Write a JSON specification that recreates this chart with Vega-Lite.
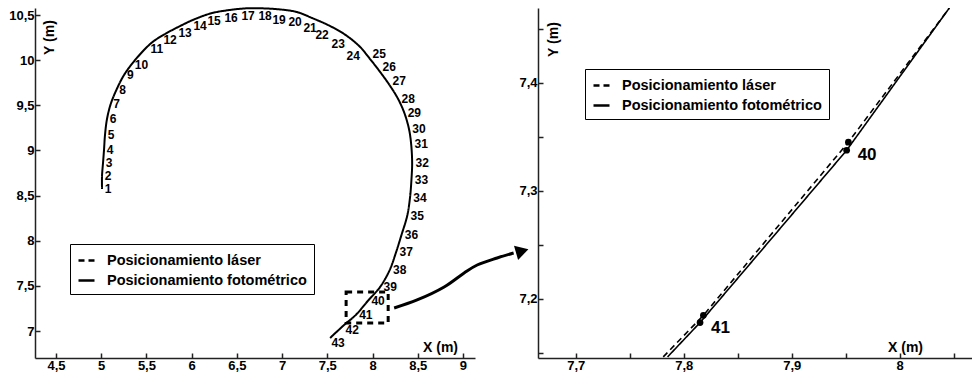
{
  "$schema": "https://vega.github.io/schema/vega-lite/v6.json",
  "padding": {"left": 8, "top": 4, "right": 0, "bottom": 0},
  "autosize": {"type": "pad"},
  "bounds": "flush",
  "spacing": 63,
  "config": {
    "view": {"stroke": null},
    "font": "Liberation Sans",
    "axis": {
      "grid": false,
      "domainColor": "#222",
      "domainWidth": 1.5,
      "tickColor": "#222",
      "tickWidth": 1.5,
      "tickSize": -5,
      "labelFont": "Liberation Sans",
      "labelFontSize": 13,
      "labelFontWeight": "bold",
      "labelColor": "black",
      "labelFlush": false,
      "labelOverlap": false,
      "labelPadding": 6,
      "titleFont": "Liberation Sans",
      "titleFontSize": 14,
      "titleFontWeight": "bold",
      "titleColor": "black",
      "titleAlign": "center",
      "titleBaseline": "middle"
    },
    "legend": {
      "orient": "none",
      "title": null,
      "strokeColor": "black",
      "fillColor": "white",
      "padding": 7,
      "symbolType": "stroke",
      "symbolSize": 256,
      "symbolStrokeWidth": 2.5,
      "symbolStrokeColor": "black",
      "labelFont": "Liberation Sans",
      "labelFontSize": 14.5,
      "labelFontWeight": "bold",
      "labelColor": "black",
      "labelOffset": 11,
      "rowPadding": 4,
      "labelLimit": 400
    }
  },
  "resolve": {"scale": {"strokeDash": "independent"}, "legend": {"strokeDash": "independent"}},
  "datasets": {
    "izq": [
      {"p": 1, "x": 5.009, "y": 8.573}, {"p": 2, "x": 5.009, "y": 8.717}, {"p": 3, "x": 5.020, "y": 8.861},
      {"p": 4, "x": 5.031, "y": 9.005}, {"p": 5, "x": 5.042, "y": 9.171}, {"p": 6, "x": 5.064, "y": 9.348},
      {"p": 7, "x": 5.105, "y": 9.514}, {"p": 8, "x": 5.170, "y": 9.675}, {"p": 9, "x": 5.255, "y": 9.840},
      {"p": 10, "x": 5.390, "y": 10.020}, {"p": 11, "x": 5.560, "y": 10.195}, {"p": 12, "x": 5.706, "y": 10.290},
      {"p": 13, "x": 5.872, "y": 10.378}, {"p": 14, "x": 6.038, "y": 10.456}, {"p": 15, "x": 6.226, "y": 10.522},
      {"p": 16, "x": 6.414, "y": 10.555}, {"p": 17, "x": 6.602, "y": 10.574}, {"p": 18, "x": 6.790, "y": 10.574},
      {"p": 19, "x": 6.989, "y": 10.561}, {"p": 20, "x": 7.166, "y": 10.533}, {"p": 21, "x": 7.332, "y": 10.467},
      {"p": 22, "x": 7.509, "y": 10.389}, {"p": 23, "x": 7.686, "y": 10.290}, {"p": 24, "x": 7.852, "y": 10.157},
      {"p": 25, "x": 7.975, "y": 10.010}, {"p": 26, "x": 8.085, "y": 9.868}, {"p": 27, "x": 8.195, "y": 9.714},
      {"p": 28, "x": 8.283, "y": 9.570}, {"p": 29, "x": 8.352, "y": 9.415}, {"p": 30, "x": 8.403, "y": 9.238},
      {"p": 31, "x": 8.427, "y": 9.071}, {"p": 32, "x": 8.438, "y": 8.861}, {"p": 33, "x": 8.430, "y": 8.673},
      {"p": 34, "x": 8.414, "y": 8.473}, {"p": 35, "x": 8.383, "y": 8.274}, {"p": 36, "x": 8.320, "y": 8.064},
      {"p": 37, "x": 8.261, "y": 7.875}, {"p": 38, "x": 8.190, "y": 7.676}, {"p": 39, "x": 8.084, "y": 7.488},
      {"p": 40, "x": 7.951, "y": 7.337}, {"p": 41, "x": 7.815, "y": 7.178}, {"p": 42, "x": 7.686, "y": 7.067},
      {"p": 43, "x": 7.531, "y": 6.923}
    ],
    "caja": [{"x1": 7.708, "x2": 8.173, "y1": 7.089, "y2": 7.432}],
    "flecha": [
      {"o": 1, "x": 8.239, "y": 7.255}, {"o": 2, "x": 8.493, "y": 7.344}, {"o": 3, "x": 8.792, "y": 7.488},
      {"o": 4, "x": 9.013, "y": 7.643}, {"o": 5, "x": 9.157, "y": 7.731}, {"o": 6, "x": 9.378, "y": 7.809},
      {"o": 7, "x": 9.560, "y": 7.864}
    ],
    "punta": [{"x": 9.655, "y": 7.886}],
    "der": [
      {"s": "Posicionamiento láser", "o": 1, "x": 7.781, "y": 7.146},
      {"s": "Posicionamiento láser", "o": 2, "x": 7.8182, "y": 7.1845, "p": 41},
      {"s": "Posicionamiento láser", "o": 3, "x": 7.9525, "y": 7.3448, "p": 40},
      {"s": "Posicionamiento láser", "o": 4, "x": 8.046, "y": 7.469},
      {"s": "Posicionamiento fotométrico", "o": 1, "x": 7.785, "y": 7.146},
      {"s": "Posicionamiento fotométrico", "o": 2, "x": 7.8151, "y": 7.1778, "p": 41},
      {"s": "Posicionamiento fotométrico", "o": 3, "x": 7.9509, "y": 7.3373, "p": 40},
      {"s": "Posicionamiento fotométrico", "o": 4, "x": 8.046, "y": 7.469}
    ]
  },
  "hconcat": [
    {
      "width": 440,
      "height": 350,
      "encoding": {
        "x": {"field": "x", "type": "quantitative",
          "scale": {"domain": [4.268, 9.133], "nice": false, "zero": false},
          "axis": {"values": [4.5, 5, 5.5, 6, 6.5, 7, 7.5, 8, 8.5, 9],
            "labelExpr": "replace(format(datum.value, '.1~f'), '.', ',')",
            "title": "X (m)", "titleX": 405, "titleY": -11, "titleAngle": 0}},
        "y": {"field": "y", "type": "quantitative",
          "scale": {"domain": [6.701, 10.578], "nice": false, "zero": false},
          "axis": {"values": [7, 7.5, 8, 8.5, 9, 9.5, 10, 10.5],
            "labelExpr": "replace(format(datum.value, '.1~f'), '.', ',')",
            "title": "Y (m)", "titleX": 14, "titleY": 29, "titleAngle": -90}}
      },
      "layer": [
        {
          "data": {"name": "izq"},
          "mark": {"type": "line", "color": "black", "strokeWidth": 2, "interpolate": "catmull-rom"},
          "encoding": {
            "order": {"field": "p", "type": "quantitative"},
            "strokeDash": {"datum": "Posicionamiento fotométrico", "type": "nominal",
              "scale": {"domain": ["Posicionamiento láser", "Posicionamiento fotométrico"], "range": [[6, 4], [1, 0]]},
              "legend": {"legendX": 35, "legendY": 236}}
          }
        },
        {
          "data": {"name": "izq"},
          "transform": [{"filter": "datum.p <= 9"}],
          "mark": {"type": "text", "fontSize": 12, "fontWeight": "bold", "dx": 6, "dy": 0, "align": "center", "baseline": "middle"},
          "encoding": {"text": {"field": "p"}}
        },
        {
          "data": {"name": "izq"},
          "transform": [{"filter": "datum.p >= 10 && datum.p <= 14"}],
          "mark": {"type": "text", "fontSize": 12, "fontWeight": "bold", "dx": 5, "dy": 6.5, "align": "center", "baseline": "middle"},
          "encoding": {"text": {"field": "p"}}
        },
        {
          "data": {"name": "izq"},
          "transform": [{"filter": "datum.p >= 15 && datum.p <= 18"}],
          "mark": {"type": "text", "fontSize": 12, "fontWeight": "bold", "dx": 2, "dy": 7.5, "align": "center", "baseline": "middle"},
          "encoding": {"text": {"field": "p"}}
        },
        {
          "data": {"name": "izq"},
          "transform": [{"filter": "datum.p >= 19 && datum.p <= 21"}],
          "mark": {"type": "text", "fontSize": 12, "fontWeight": "bold", "dx": -2, "dy": 10, "align": "center", "baseline": "middle"},
          "encoding": {"text": {"field": "p"}}
        },
        {
          "data": {"name": "izq"},
          "transform": [{"filter": "datum.p >= 22 && datum.p <= 24"}],
          "mark": {"type": "text", "fontSize": 12, "fontWeight": "bold", "dx": -6, "dy": 10, "align": "center", "baseline": "middle"},
          "encoding": {"text": {"field": "p"}}
        },
        {
          "data": {"name": "izq"},
          "transform": [{"filter": "datum.p >= 25 && datum.p <= 27"}],
          "mark": {"type": "text", "fontSize": 12, "fontWeight": "bold", "dx": 9, "dy": -5, "align": "center", "baseline": "middle"},
          "encoding": {"text": {"field": "p"}}
        },
        {
          "data": {"name": "izq"},
          "transform": [{"filter": "datum.p >= 28 && datum.p <= 41"}],
          "mark": {"type": "text", "fontSize": 12, "fontWeight": "bold", "dx": 10, "dy": 0, "align": "center", "baseline": "middle"},
          "encoding": {"text": {"field": "p"}}
        },
        {
          "data": {"name": "izq"},
          "transform": [{"filter": "datum.p >= 42"}],
          "mark": {"type": "text", "fontSize": 12, "fontWeight": "bold", "dx": 8, "dy": 5, "align": "center", "baseline": "middle"},
          "encoding": {"text": {"field": "p"}}
        },
        {
          "data": {"name": "caja"},
          "mark": {"type": "rect", "fill": null, "fillOpacity": 0, "stroke": "black", "strokeWidth": 3, "strokeDash": [6, 5]},
          "encoding": {
            "x": {"field": "x1", "type": "quantitative"},
            "x2": {"field": "x2"},
            "y": {"field": "y1", "type": "quantitative"},
            "y2": {"field": "y2"}
          }
        },
        {
          "data": {"name": "flecha"},
          "mark": {"type": "line", "color": "black", "strokeWidth": 3, "clip": false, "interpolate": "catmull-rom"},
          "encoding": {"order": {"field": "o", "type": "quantitative"}}
        },
        {
          "data": {"name": "punta"},
          "mark": {"type": "point", "shape": "triangle-right", "filled": true, "color": "black", "opacity": 1, "size": 220, "angle": -16, "clip": false},
          "encoding": {}
        }
      ]
    },
    {
      "width": 434,
      "height": 350,
      "encoding": {
        "x": {"field": "x", "type": "quantitative",
          "scale": {"domain": [7.665, 8.067], "nice": false, "zero": false},
          "axis": {"values": [7.7, 7.75, 7.8, 7.85, 7.9, 7.95, 8, 8.05],
            "labelExpr": "abs(datum.value*10 - round(datum.value*10)) < 0.01 ? replace(format(datum.value, '.1~f'), '.', ',') : ''",
            "title": "X (m)", "titleX": 367, "titleY": -11, "titleAngle": 0}},
        "y": {"field": "y", "type": "quantitative",
          "scale": {"domain": [7.145, 7.469], "nice": false, "zero": false},
          "axis": {"values": [7.15, 7.2, 7.25, 7.3, 7.35, 7.4, 7.45],
            "labelExpr": "abs(datum.value*10 - round(datum.value*10)) < 0.01 ? replace(format(datum.value, '.1~f'), '.', ',') : ''",
            "title": "Y (m)", "titleX": 15, "titleY": 31, "titleAngle": -90}}
      },
      "layer": [
        {
          "data": {"name": "der"},
          "mark": {"type": "line", "color": "black", "strokeWidth": 1.6, "clip": true},
          "encoding": {
            "order": {"field": "o", "type": "quantitative"},
            "detail": {"field": "s"},
            "strokeDash": {"field": "s", "type": "nominal",
              "scale": {"domain": ["Posicionamiento láser", "Posicionamiento fotométrico"], "range": [[6, 4], [1, 0]]},
              "legend": {"legendX": 47, "legendY": 61}}
          }
        },
        {
          "data": {"name": "der"},
          "transform": [{"filter": "isValid(datum.p)"}],
          "mark": {"type": "circle", "color": "black", "opacity": 1, "size": 45},
          "encoding": {}
        },
        {
          "data": {"name": "der"},
          "transform": [{"filter": "isValid(datum.p) && datum.s == 'Posicionamiento fotométrico'"}],
          "mark": {"type": "text", "fontSize": 17, "fontWeight": "bold", "dx": 11, "dy": 5, "align": "left", "baseline": "middle"},
          "encoding": {"text": {"field": "p"}}
        }
      ]
    }
  ]
}
